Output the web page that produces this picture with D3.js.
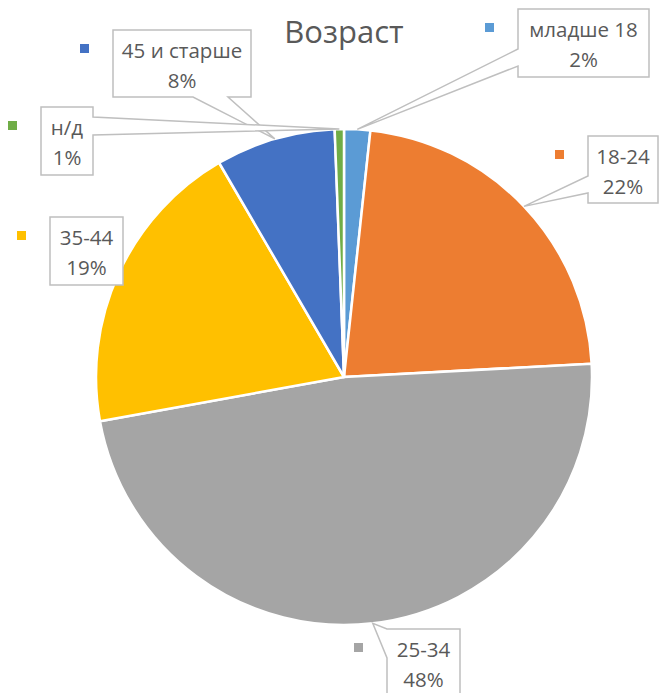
<!DOCTYPE html>
<html>
<head>
<meta charset="utf-8">
<script src="https://cdn.jsdelivr.net/npm/d3@7"></script>
<style>
  html, body { margin: 0; padding: 0; background: #fff; }
  svg { display: block; }
  text { font-family: "Open Sans", "Liberation Sans", sans-serif; fill: #595959; }
</style>
</head>
<body>
<svg id="chart" width="659" height="693"></svg>
<script>
// ---- data ----
const title = "Возраст";
const categories = ["младше 18", "18-24", "25-34", "35-44", "45 и старше", "н/д"];
const values = [1.7, 22.45, 48.0, 19.45, 7.8, 0.6];
const colors = ["#5B9BD5", "#ED7D31", "#A5A5A5", "#FFC000", "#4472C4", "#70AD47"];

// ---- layout (label callout boxes, not data) ----
const labelBoxes = [
  { x: 518, y: 9,   w: 131, h: 68, side: "left",   a: 49,  b: 66 },
  { x: 588, y: 136, w: 70,  h: 67, side: "left",   a: 176, b: 193 },
  { x: 387, y: 629, w: 73,  h: 70, side: "left",   a: 629, b: 658 },
  { x: 50,  y: 217, w: 73,  h: 68, side: null },
  { x: 113, y: 30,  w: 138, h: 67, side: "bottom", a: 193, b: 228 },
  { x: 41,  y: 107, w: 52,  h: 68, side: "right",  a: 117, b: 135 }
];

const W = 659, H = 693;
const cx = 344, cy = 377, R = 248;

const svg = d3.select("#chart");

svg.append("text")
  .attr("x", cx).attr("y", 43)
  .attr("text-anchor", "middle")
  .style("font-size", "31px")
  .text(title);

const data = categories.map((c, i) => ({ cat: c, value: values[i], color: colors[i], box: labelBoxes[i] }));
const total = d3.sum(values);

const pie = d3.pie().sort(null).value(d => d.value).startAngle(0).endAngle(2 * Math.PI);
const arcs = pie(data);
const arc = d3.arc().innerRadius(0).outerRadius(R);

const g = svg.append("g").attr("transform", `translate(${cx},${cy})`);
g.selectAll("path.slice")
  .data(arcs)
  .join("path")
  .attr("class", "slice")
  .attr("d", arc)
  .attr("fill", d => d.data.color)
  .attr("stroke", "#fff")
  .attr("stroke-width", 2.5)
  .attr("stroke-linejoin", "round");

function calloutPath(bx, tip) {
  const { x, y, w, h, side, a, b } = bx;
  const r = x + w, btm = y + h;
  if (side === "left") {
    return `M${x},${y}H${r}V${btm}H${x}V${b}L${tip[0]},${tip[1]}L${x},${a}Z`;
  } else if (side === "right") {
    return `M${x},${y}H${r}V${a}L${tip[0]},${tip[1]}L${r},${b}V${btm}H${x}Z`;
  } else if (side === "bottom") {
    return `M${x},${y}H${r}V${btm}H${b}L${tip[0]},${tip[1]}L${a},${btm}H${x}Z`;
  }
  return `M${x},${y}H${r}V${btm}H${x}Z`;
}

const labels = svg.append("g");
arcs.forEach(d => {
  const bx = d.data.box;
  const mid = (d.startAngle + d.endAngle) / 2;
  const tip = [cx + R * Math.sin(mid), cy - R * Math.cos(mid)];
  labels.append("path")
    .attr("d", calloutPath(bx, tip))
    .attr("fill", "#fff")
    .attr("stroke", "#BFBFBF")
    .attr("stroke-width", 1.5)
    .attr("stroke-linejoin", "miter");
  labels.append("rect")
    .attr("x", bx.x - 33).attr("y", bx.y + 14)
    .attr("width", 9).attr("height", 9)
    .attr("fill", d.data.color);
  const tx = bx.x + bx.w / 2;
  labels.append("text")
    .attr("x", tx).attr("y", bx.y + 28)
    .attr("text-anchor", "middle")
    .style("font-size", "20.5px")
    .text(d.data.cat);
  labels.append("text")
    .attr("x", tx).attr("y", bx.y + 58)
    .attr("text-anchor", "middle")
    .style("font-size", "20.5px")
    .text(Math.round(d.data.value / total * 100) + "%");
});
</script>
</body>
</html>
